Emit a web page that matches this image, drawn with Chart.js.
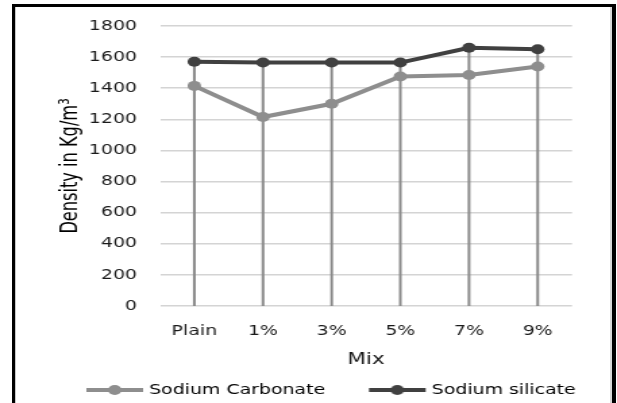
<!DOCTYPE html>
<html>
<head>
<meta charset="utf-8">
<script src="https://cdn.jsdelivr.net/npm/chart.js@4"></script>
<style>
    html, body { margin: 0; padding: 0; background: #fff; }
    body { width: 617px; height: 403px; position: relative; overflow: hidden; }
    #densityChart { position: absolute; left: 0; top: 0; transform: scaleX(1.3501); transform-origin: 0 0; }
    #frame {
        position: absolute; left: 12px; top: 4px; width: 597px; height: 420px;
        border: 3px solid #000; border-right-width: 4px; border-bottom: none;
        box-shadow: inset 1px 0 0 #c8c8c8, inset -2px 0 0 #d8d8d8;
        pointer-events: none;
    }
</style>
</head>
<body>
<canvas id="densityChart" width="457" height="403"></canvas>
<div id="frame"></div>
<script>
const categories = ['Plain', '1%', '3%', '5%', '7%', '9%'];
const carbonate = [1415, 1215, 1300, 1475, 1485, 1540];
const silicate = [1570, 1565, 1565, 1565, 1660, 1650];
const yTicks = { min: 0, max: 1800, step: 200 };

const carbonateColor = '#8e8e8e';
const silicateColor = '#404040';
const tickFont = { family: "'DejaVu Sans', Verdana, sans-serif", size: 14 };

// legend symbol: line with a dot, blank on the left to space the items
function legendSymbol(color) {
    const c = document.createElement('canvas');
    c.width = 72;
    c.height = 12;
    const g = c.getContext('2d');
    g.strokeStyle = color;
    g.lineWidth = 4;
    g.beginPath();
    g.moveTo(29, 6);
    g.lineTo(71, 6);
    g.stroke();
    g.fillStyle = color;
    g.beginPath();
    g.arc(50, 6, 5, 0, Math.PI * 2);
    g.fill();
    return c;
}
const symbols = [legendSymbol(carbonateColor), legendSymbol(silicateColor)];

// vertical drop lines from the highest point of each category to zero
const dropLines = {
    id: 'dropLines',
    beforeDatasetsDraw(chart) {
        const { ctx, scales: { x, y } } = chart;
        ctx.save();
        ctx.strokeStyle = '#8a8a8a';
        ctx.lineWidth = 2;
        categories.forEach((c, i) => {
            const px = x.getPixelForValue(i);
            ctx.beginPath();
            ctx.moveTo(px, y.getPixelForValue(Math.max(carbonate[i], silicate[i])));
            ctx.lineTo(px, y.getPixelForValue(0));
            ctx.stroke();
        });
        ctx.restore();
    }
};

const ctx = document.getElementById('densityChart').getContext('2d');
new Chart(ctx, {
    type: 'line',
    data: {
        labels: categories,
        datasets: [
            {
                label: 'Sodium Carbonate',
                data: carbonate,
                borderColor: carbonateColor,
                backgroundColor: carbonateColor,
                borderWidth: 4,
                pointRadius: 5,
                pointBorderWidth: 0,
                tension: 0
            },
            {
                label: 'Sodium silicate',
                data: silicate,
                borderColor: silicateColor,
                backgroundColor: silicateColor,
                borderWidth: 4,
                pointRadius: 5,
                pointBorderWidth: 0,
                tension: 0
            }
        ]
    },
    options: {
        responsive: false,
        animation: false,
        layout: {
            padding: { left: 7.8, right: 0, top: 26, bottom: -4 }
        },
        scales: {
            x: {
                offset: true,
                grid: { display: false },
                border: { display: false },
                ticks: { font: tickFont, color: '#1a1a1a', padding: 9 },
                title: {
                    display: true,
                    text: 'Mix',
                    font: { family: "'DejaVu Sans', Verdana, sans-serif", size: 16 },
                    color: '#1a1a1a',
                    padding: { top: 0, bottom: 6.4 }
                },
                afterFit: (scale) => { scale.height = 70; }
            },
            y: {
                min: yTicks.min,
                max: yTicks.max,
                grid: { color: '#d4d4d4', lineWidth: 1.5, drawTicks: false },
                border: { display: false },
                ticks: {
                    stepSize: yTicks.step,
                    font: tickFont,
                    color: '#1a1a1a',
                    padding: 17,
                    callback: (value) => String(value)
                },
                title: {
                    display: true,
                    text: 'Density in Kg/m³',
                    font: { family: "'Liberation Sans Narrow', 'DejaVu Sans Condensed', sans-serif", size: 18 },
                    color: '#000',
                    padding: { top: 33.3, bottom: 0 }
                },
                afterFit: (scale) => { scale.width = 110.7; }
            },
            yRight: {
                position: 'right',
                grid: { display: false },
                border: { display: false },
                ticks: { display: false },
                afterFit: (scale) => { scale.width = 33.3; }
            }
        },
        plugins: {
            legend: {
                position: 'bottom',
                labels: {
                    usePointStyle: true,
                    pointStyleWidth: 65,
                    padding: 7,
                    color: '#000',
                    font: tickFont,
                    generateLabels: (chart) => Chart.defaults.plugins.legend.labels.generateLabels(chart)
                        .map((item, i) => ({ ...item, pointStyle: symbols[i] }))
                }
            },
            tooltip: { enabled: false }
        }
    },
    plugins: [dropLines]
});
</script>
</body>
</html>
